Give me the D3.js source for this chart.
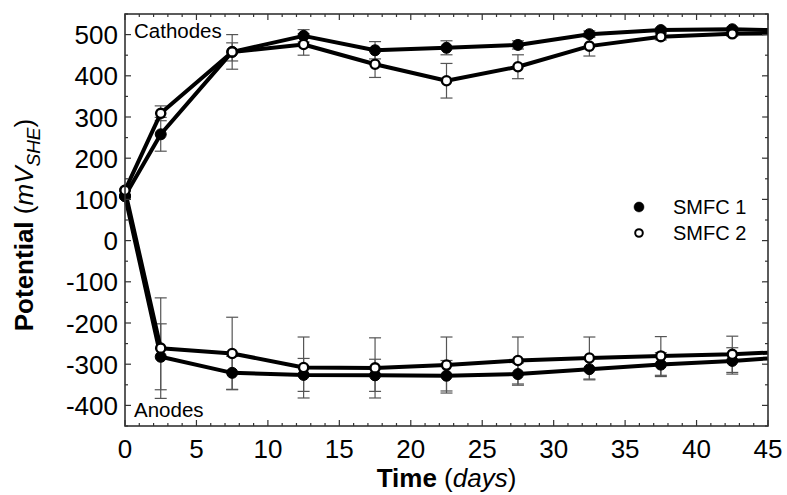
<!DOCTYPE html>
<html>
<head>
<meta charset="utf-8">
<script src="https://cdn.jsdelivr.net/npm/d3@7"></script>
<style>
  body { margin: 0; background: #fff; }
  svg { display: block; font-family: "Liberation Sans", Arial, sans-serif; }
</style>
</head>
<body>
<svg id="chart" width="787" height="495"></svg>
<script>
// ---- data ----
const days = [0, 2.5, 7.5, 12.5, 17.5, 22.5, 27.5, 32.5, 37.5, 42.5];
const cathode1 = [108, 258, 458, 497, 462, 468, 475, 501, 511, 513];
const cathode1Err = [0, 41, 42, 15, 21, 17, 10, 8, 5, 5];
const cathode2 = [122, 309, 458, 476, 428, 388, 422, 472, 495, 502];
const cathode2Err = [0, 18, 22, 26, 32, 42, 29, 24, 8, 6];
const anode1 = [108, -282, -321, -326, -327, -328, -324, -312, -301, -292];
const anode1Err = [0, 80, 40, 40, 39, 37, 27, 26, 29, 32];
const anode2 = [122, -261, -274, -308, -309, -302, -291, -285, -280, -276];
const anode2Err = [0, 122, 88, 74, 73, 68, 57, 51, 47, 44];
// values where the lines leave the plot at day 45
const edgeDay = 45;
const edgeCathode1 = 511, edgeCathode2 = 503, edgeAnode1 = -286, edgeAnode2 = -272;

const xTicks = [0, 5, 10, 15, 20, 25, 30, 35, 40, 45];
const yTicks = [-400, -300, -200, -100, 0, 100, 200, 300, 400, 500];
const seriesNames = ["SMFC 1", "SMFC 2"];

// ---- layout ----
const W = 787, H = 495;
const m = { left: 125, right: 19, top: 14, bottom: 69 };
const svg = d3.select("#chart");
const x = d3.scaleLinear().domain([0, 45]).range([m.left, W - m.right]);
const y = d3.scaleLinear().domain([-450, 550]).range([H - m.bottom, m.top]);

const axisColor = "#333";
const g = svg.append("g");

// error bars
function errBars(vals, errs) {
  const cap = 6;
  const gg = g.append("g").attr("stroke", "#555").attr("stroke-width", 1.2).attr("fill", "none");
  days.forEach((d, i) => {
    const e = errs[i];
    if (!e) return;
    const cx = x(d), y1 = y(vals[i] + e), y2 = y(vals[i] - e);
    gg.append("line").attr("x1", cx).attr("x2", cx).attr("y1", y1).attr("y2", y2);
    gg.append("line").attr("x1", cx - cap).attr("x2", cx + cap).attr("y1", y1).attr("y2", y1);
    gg.append("line").attr("x1", cx - cap).attr("x2", cx + cap).attr("y1", y2).attr("y2", y2);
  });
}
errBars(cathode1, cathode1Err);
errBars(cathode2, cathode2Err);
errBars(anode1, anode1Err);
errBars(anode2, anode2Err);

// lines
const line = d3.line().x(d => x(d[0])).y(d => y(d[1]));
function drawLine(vals, edge) {
  const pts = days.map((d, i) => [d, vals[i]]).concat([[edgeDay, edge]]);
  g.append("path").datum(pts).attr("d", line)
    .attr("fill", "none").attr("stroke", "#000").attr("stroke-width", 4)
    .attr("stroke-linejoin", "round");
}
drawLine(cathode1, edgeCathode1);
drawLine(cathode2, edgeCathode2);
drawLine(anode1, edgeAnode1);
drawLine(anode2, edgeAnode2);

// markers
function markers(vals, filled) {
  g.append("g").selectAll("circle").data(days.map((d, i) => [d, vals[i]])).join("circle")
    .attr("cx", d => x(d[0])).attr("cy", d => y(d[1]))
    .attr("r", filled ? 5.5 : 4.6)
    .attr("fill", filled ? "#000" : "#fff")
    .attr("stroke", "#000").attr("stroke-width", filled ? 1 : 2.4);
}
markers(cathode1, true);
markers(anode1, true);
markers(cathode2, false);
markers(anode2, false);

// ---- axes frame & ticks ----
const frame = svg.append("g");
frame.append("rect")
  .attr("x", m.left).attr("y", m.top)
  .attr("width", W - m.left - m.right).attr("height", H - m.top - m.bottom)
  .attr("fill", "none").attr("stroke", axisColor).attr("stroke-width", 1.6);

const xMinor = d3.range(0, 46, 1);
const yMinor = d3.range(-450, 551, 50);
const tk = frame.append("g").attr("stroke", axisColor).attr("stroke-width", 1.2);
xMinor.forEach(v => {
  const len = v % 5 === 0 ? 6 : 3;
  tk.append("line").attr("x1", x(v)).attr("x2", x(v)).attr("y1", y.range()[0]).attr("y2", y.range()[0] - len);
  tk.append("line").attr("x1", x(v)).attr("x2", x(v)).attr("y1", y.range()[1]).attr("y2", y.range()[1] + len);
});
yMinor.forEach(v => {
  const len = v % 100 === 0 ? 6 : 3;
  tk.append("line").attr("y1", y(v)).attr("y2", y(v)).attr("x1", x.range()[0]).attr("x2", x.range()[0] + len);
  tk.append("line").attr("y1", y(v)).attr("y2", y(v)).attr("x1", x.range()[1]).attr("x2", x.range()[1] - len);
});

// tick labels
svg.append("g").selectAll("text").data(xTicks).join("text")
  .attr("x", d => x(d)).attr("y", 458)
  .attr("text-anchor", "middle").attr("font-size", 26).attr("fill", "#000")
  .text(d => d);
svg.append("g").selectAll("text").data(yTicks).join("text")
  .attr("x", 118).attr("y", d => y(d) + 9.5)
  .attr("text-anchor", "end").attr("font-size", 26).attr("fill", "#000")
  .text(d => d);

// axis titles
const xt = svg.append("text").attr("x", (x.range()[0] + x.range()[1]) / 2).attr("y", 487)
  .attr("text-anchor", "middle").attr("font-size", 26).attr("fill", "#000");
xt.append("tspan").attr("font-weight", "bold").text("Time");
xt.append("tspan").text(" (");
xt.append("tspan").attr("font-style", "italic").text("days");
xt.append("tspan").text(")");

const yt = svg.append("text").attr("transform", "translate(33,225) rotate(-90)")
  .attr("text-anchor", "middle").attr("font-size", 26).attr("fill", "#000");
yt.append("tspan").attr("font-weight", "bold").text("Potential");
yt.append("tspan").text(" (");
yt.append("tspan").attr("font-style", "italic").text("mV");
yt.append("tspan").attr("font-style", "italic").attr("font-size", 19).attr("dy", 7).text("SHE");
yt.append("tspan").attr("dy", -7).text(")");

// annotations
svg.append("text").attr("x", 134).attr("y", 38).attr("font-size", 20.5).attr("fill", "#000").text("Cathodes");
svg.append("text").attr("x", 134).attr("y", 417).attr("font-size", 20.5).attr("fill", "#000").text("Anodes");

// legend
const lg = svg.append("g");
seriesNames.forEach((name, i) => {
  const cy = 207 + i * 26;
  lg.append("circle").attr("cx", 639).attr("cy", cy)
    .attr("r", i === 0 ? 5 : 3.8)
    .attr("fill", i === 0 ? "#000" : "#fff").attr("stroke", "#000").attr("stroke-width", i === 0 ? 0.5 : 2);
  lg.append("text").attr("x", 673).attr("y", cy + 7).attr("font-size", 20).attr("fill", "#000").text(name);
});
</script>
</body>
</html>
